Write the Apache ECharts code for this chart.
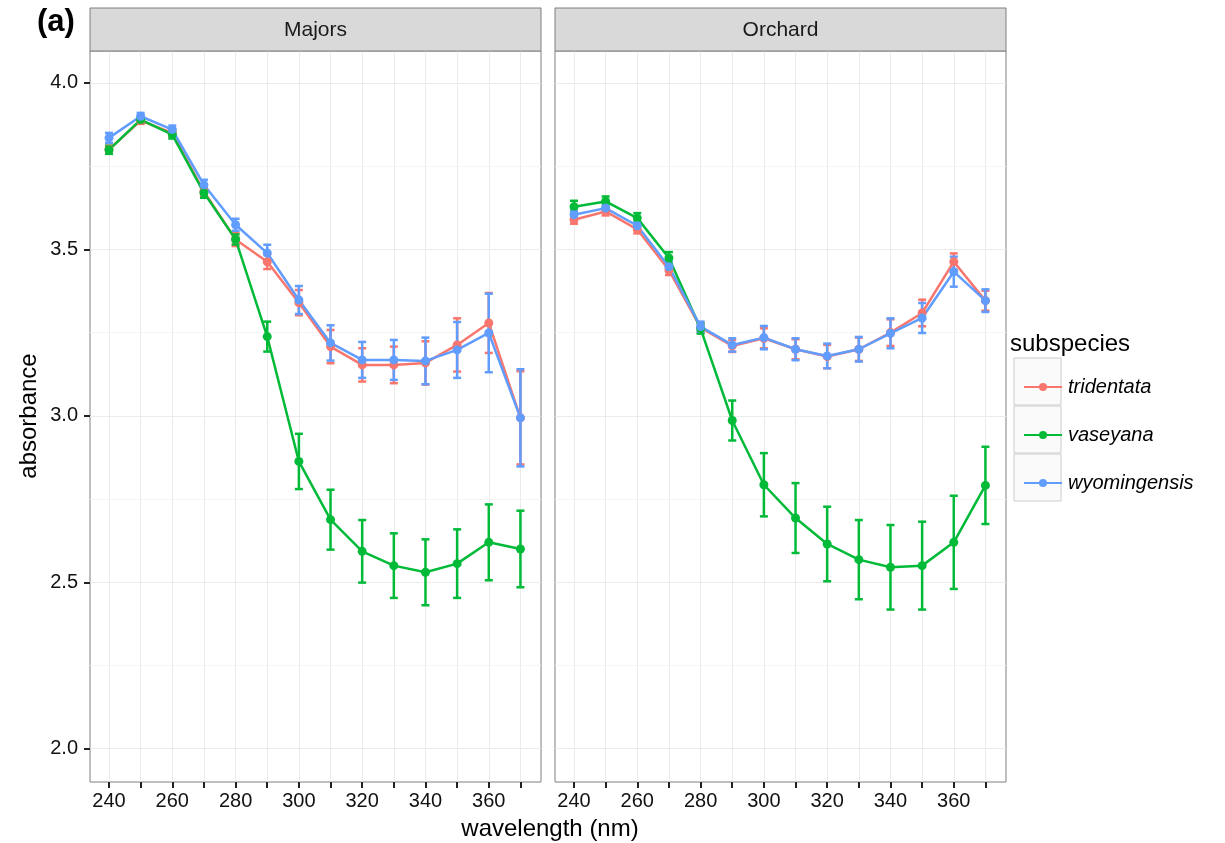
<!DOCTYPE html>
<html>
<head>
<meta charset="utf-8">
<title>absorbance by wavelength</title>
<script src="https://cdn.jsdelivr.net/npm/echarts@6/dist/echarts.min.js"></script>
<style>
  html, body { margin: 0; padding: 0; background: #fff; }
  #chart { width: 1225px; height: 843px; }
</style>
</head>
<body>
<div id="chart"></div>
<script>
// wavelengths (nm) and axis tick labels
const wavelengths = [240, 250, 260, 270, 280, 290, 300, 310, 320, 330, 340, 350, 360, 370];
const xLabelTicks = [240, 260, 280, 300, 320, 340, 360];
const yTicks = [2.0, 2.5, 3.0, 3.5, 4.0];
const yMinorTicks = [2.25, 2.75, 3.25, 3.75];
const subspecies = ['tridentata', 'vaseyana', 'wyomingensis'];
const panels = ['Majors', 'Orchard'];

// Majors: mean absorbance and half-length of error bar
const majorsTridentata   = [3.80, 3.887, 3.85, 3.674, 3.53, 3.463, 3.34, 3.208, 3.153, 3.153, 3.159, 3.213, 3.279, 2.994];
const majorsTridentataSe = [0.012, 0.01, 0.012, 0.015, 0.02, 0.022, 0.038, 0.05, 0.05, 0.055, 0.065, 0.08, 0.09, 0.14];
const majorsVaseyana     = [3.799, 3.89, 3.845, 3.67, 3.53, 3.238, 2.863, 2.688, 2.593, 2.55, 2.53, 2.556, 2.62, 2.60];
const majorsVaseyanaSe   = [0.012, 0.01, 0.012, 0.015, 0.015, 0.045, 0.083, 0.09, 0.094, 0.097, 0.099, 0.103, 0.114, 0.115];
const majorsWyomingensis   = [3.835, 3.90, 3.86, 3.694, 3.574, 3.489, 3.348, 3.219, 3.168, 3.168, 3.165, 3.198, 3.249, 2.994];
const majorsWyomingensisSe = [0.015, 0.01, 0.012, 0.015, 0.018, 0.025, 0.042, 0.053, 0.054, 0.06, 0.07, 0.084, 0.118, 0.146];

// Orchard
const orchardTridentata   = [3.589, 3.614, 3.56, 3.438, 3.265, 3.21, 3.233, 3.2, 3.178, 3.2, 3.25, 3.309, 3.463, 3.346];
const orchardTridentataSe = [0.012, 0.012, 0.012, 0.015, 0.015, 0.018, 0.03, 0.03, 0.035, 0.035, 0.04, 0.04, 0.025, 0.03];
const orchardVaseyana     = [3.628, 3.644, 3.594, 3.474, 3.262, 2.986, 2.793, 2.693, 2.615, 2.568, 2.545, 2.55, 2.62, 2.791];
const orchardVaseyanaSe   = [0.018, 0.015, 0.015, 0.018, 0.015, 0.06, 0.095, 0.105, 0.112, 0.119, 0.127, 0.132, 0.14, 0.116];
const orchardWyomingensis   = [3.604, 3.624, 3.571, 3.448, 3.268, 3.213, 3.235, 3.2, 3.18, 3.2, 3.248, 3.294, 3.433, 3.346];
const orchardWyomingensisSe = [0.012, 0.012, 0.012, 0.015, 0.015, 0.02, 0.035, 0.033, 0.037, 0.037, 0.045, 0.045, 0.045, 0.034];

const colors = { tridentata: '#F8766D', vaseyana: '#00BA38', wyomingensis: '#619CFF' };

const panelData = [
  { tridentata: [majorsTridentata, majorsTridentataSe], vaseyana: [majorsVaseyana, majorsVaseyanaSe], wyomingensis: [majorsWyomingensis, majorsWyomingensisSe] },
  { tridentata: [orchardTridentata, orchardTridentataSe], vaseyana: [orchardVaseyana, orchardVaseyanaSe], wyomingensis: [orchardWyomingensis, orchardWyomingensisSe] }
];

const FONT = '"Liberation Sans", Arial, sans-serif';
const GRID_TOP = 51, GRID_H = 731, GRID_W = 451;
const gridLefts = [90, 555];

function errorBarItem(params, api) {
  const x = api.value(0);
  const lo = api.coord([x, api.value(1)]);
  const hi = api.coord([x, api.value(2)]);
  const half = 4;
  const style = { stroke: api.visual('color'), lineWidth: 2.5 };
  return {
    type: 'group',
    children: [
      { type: 'line', shape: { x1: lo[0], y1: lo[1], x2: hi[0], y2: hi[1] }, style },
      { type: 'line', shape: { x1: lo[0] - half, y1: lo[1], x2: lo[0] + half, y2: lo[1] }, style },
      { type: 'line', shape: { x1: hi[0] - half, y1: hi[1], x2: hi[0] + half, y2: hi[1] }, style }
    ]
  };
}

const grids = gridLefts.map(left => ({
  left, top: GRID_TOP, width: GRID_W, height: GRID_H,
  show: true, backgroundColor: '#fff', borderColor: '#7f7f7f', borderWidth: 1
}));

const xAxes = gridLefts.map((_, i) => ({
  type: 'value', gridIndex: i, min: 234, max: 376.5,
  axisLine: { show: false },
  axisTick: { show: true, length: 6, customValues: wavelengths, lineStyle: { color: '#222', width: 2 } },
  axisLabel: { customValues: xLabelTicks, margin: 9, color: '#111', fontSize: 20, fontFamily: FONT },
  splitLine: { show: true, lineStyle: { color: '#ebebeb', width: 1 } }
}));

const yAxes = [];
gridLefts.forEach((_, i) => {
  yAxes.push({
    type: 'value', gridIndex: i, min: 1.9, max: 4.096,
    axisLine: { show: false },
    axisTick: { show: i === 0, length: 6, customValues: yTicks, lineStyle: { color: '#222', width: 2 } },
    axisLabel: { show: i === 0, customValues: yTicks, margin: 12, color: '#111', fontSize: 20, fontFamily: FONT,
      formatter: v => v.toFixed(1) },
    splitLine: { show: true, lineStyle: { color: '#ebebeb', width: 1 } }
  });
});
gridLefts.forEach((_, i) => {
  yAxes.push({
    type: 'value', gridIndex: i, min: 1.9, max: 4.096,
    axisLine: { show: false },
    axisTick: { show: false, customValues: yMinorTicks },
    axisLabel: { show: false },
    splitLine: { show: true, lineStyle: { color: '#f5f5f5', width: 1 } }
  });
});

const series = [];
panelData.forEach((pd, p) => {
  subspecies.forEach(name => {
    const [means, se] = pd[name];
    series.push({
      name, type: 'line', xAxisIndex: p, yAxisIndex: p,
      data: wavelengths.map((w, k) => [w, means[k]]),
      symbol: 'circle', symbolSize: 9,
      itemStyle: { color: colors[name] },
      lineStyle: { color: colors[name], width: 2.5 },
      emphasis: { disabled: true },
      z: 3
    });
    series.push({
      name, type: 'custom', xAxisIndex: p, yAxisIndex: p,
      data: wavelengths.map((w, k) => [w, means[k] - se[k], means[k] + se[k]]),
      renderItem: errorBarItem,
      encode: { x: 0, y: [1, 2] },
      itemStyle: { color: colors[name] },
      z: 3
    });
  });
});

const graphics = [];
panels.forEach((label, i) => {
  graphics.push({
    type: 'rect', shape: { x: gridLefts[i], y: 8, width: GRID_W, height: 43 },
    style: { fill: '#d9d9d9', stroke: '#7f7f7f', lineWidth: 1 }, z: 1
  });
  graphics.push({
    type: 'text', x: gridLefts[i] + GRID_W / 2, y: 30,
    style: { text: label, fill: '#1a1a1a', font: '21px ' + FONT, align: 'center', verticalAlign: 'middle' }, z: 2
  });
});
graphics.push({
  type: 'text', x: 37, y: 22,
  style: { text: '(a)', fill: '#000', font: 'bold 31px ' + FONT, align: 'left', verticalAlign: 'middle' }
});
graphics.push({
  type: 'text', x: 550, y: 829,
  style: { text: 'wavelength (nm)', fill: '#000', font: '24px ' + FONT, align: 'center', verticalAlign: 'middle' }
});
graphics.push({
  type: 'text', x: 29, y: 416, rotation: Math.PI / 2,
  style: { text: 'absorbance', fill: '#000', font: '24px ' + FONT, align: 'center', verticalAlign: 'middle' }
});
graphics.push({
  type: 'text', x: 1010, y: 344,
  style: { text: 'subspecies', fill: '#000', font: '24px ' + FONT, align: 'left', verticalAlign: 'middle' }
});
subspecies.forEach((_, k) => {
  graphics.push({
    type: 'rect', shape: { x: 1014, y: 358 + k * 48, width: 47, height: 47 },
    style: { fill: '#fafafa', stroke: '#cccccc', lineWidth: 1 }, z: 0
  });
});

const chart = echarts.init(document.getElementById('chart'));
chart.setOption({
  animation: false,
  backgroundColor: '#fff',
  grid: grids,
  xAxis: xAxes,
  yAxis: yAxes,
  legend: {
    data: subspecies,
    orient: 'vertical',
    left: 1018, top: 370,
    itemWidth: 38, itemHeight: 10, itemGap: 24,
    selectedMode: false,
    textStyle: { fontSize: 20, fontStyle: 'italic', fontFamily: FONT, color: '#000', lineHeight: 24, padding: [0, 0, 0, 1] }
  },
  graphic: graphics,
  series
});
window.addEventListener('resize', () => chart.resize());
</script>
</body>
</html>
